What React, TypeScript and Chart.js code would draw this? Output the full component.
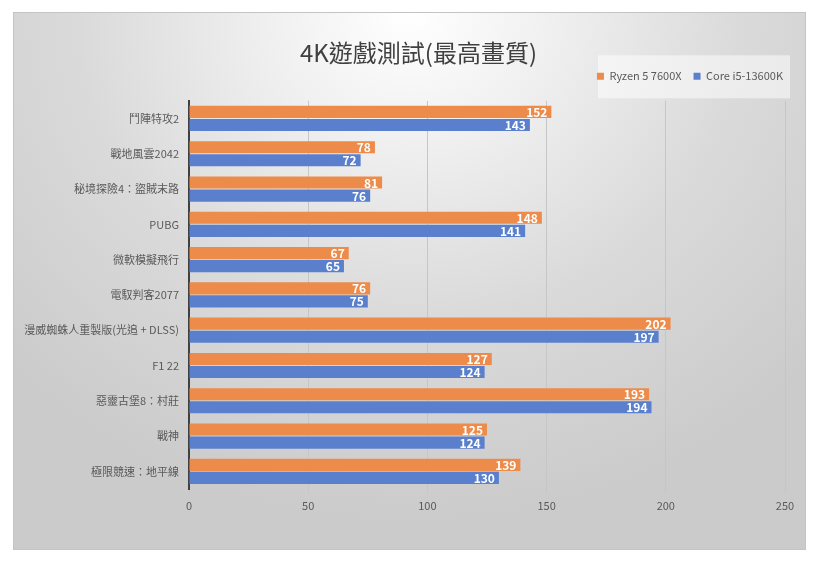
import React, { useEffect, useRef } from "react";
import { Chart, registerables } from "chart.js";

Chart.register(...registerables);

const TITLE = "4K遊戲測試(最高畫質)";
const categories = [
  "鬥陣特攻2",
  "戰地風雲2042",
  "秘境探險4：盜賊末路",
  "PUBG",
  "微軟模擬飛行",
  "電馭判客2077",
  "漫威蜘蛛人重製版(光追 + DLSS)",
  "F1 22",
  "惡靈古堡8：村莊",
  "戰神",
  "極限競速：地平線",
];
const seriesNames = ["Ryzen 5 7600X", "Core i5-13600K"];
const ryzenValues = [152, 78, 81, 148, 67, 76, 202, 127, 193, 125, 139];
const coreValues = [143, 72, 76, 141, 65, 75, 197, 124, 194, 124, 130];
const xTicks = [0, 50, 100, 150, 200, 250];

const ORANGE = "#ED8B4B";
const BLUE = "#5A80CD";
const FONT = "'Noto Sans CJK TC', 'Noto Sans', sans-serif";

const valueLabels = {
  id: "valueLabels",
  afterDatasetsDraw(chart: any) {
    const ctx = chart.ctx;
    ctx.save();
    ctx.font = `bold 12px ${FONT}`;
    ctx.fillStyle = "#ffffff";
    ctx.textAlign = "right";
    ctx.textBaseline = "middle";
    chart.data.datasets.forEach((ds: any, di: number) => {
      const meta = chart.getDatasetMeta(di);
      meta.data.forEach((bar: any, i: number) => {
        ctx.fillText(String(ds.data[i]), bar.x - 4, bar.y + 0.5);
      });
    });
    ctx.restore();
  },
};

const legendTweak = {
  id: "legendTweak",
  beforeLayout(chart: any) {
    const lg = chart.legend;
    if (lg && !lg._patched) {
      const orig = lg.fit.bind(lg);
      lg.fit = () => {
        orig();
        lg.height += 9;
      };
      lg._patched = true;
    }
  },
  afterLayout(chart: any) {
    const lg = chart.legend;
    if (lg) {
      lg.left += 10;
      lg.right += 10;
    }
    const tb = chart.titleBlock;
    if (tb) {
      tb.left += 19;
      tb.right += 19;
    }
  },
  beforeDraw(chart: any) {
    const lg = chart.legend;
    if (!lg || !lg.legendHitBoxes || !lg.legendHitBoxes.length) return;
    const ctx = chart.ctx;
    const hb = lg.legendHitBoxes;
    const cy = hb[0].top + hb[0].height / 2;
    ctx.save();
    ctx.fillStyle = "rgba(255,255,255,0.5)";
    ctx.fillRect(584, cy - 21, 192, 43);
    ctx.restore();
  },
};

export default function App() {
  const ref = useRef<HTMLCanvasElement>(null);

  useEffect(() => {
    if (!ref.current) return;
    const chart = new Chart(ref.current, {
      type: "bar",
      data: {
        labels: categories,
        datasets: [
          {
            label: seriesNames[0],
            data: ryzenValues,
            backgroundColor: ORANGE,
            categoryPercentage: 0.74,
            barPercentage: 0.93,
          },
          {
            label: seriesNames[1],
            data: coreValues,
            backgroundColor: BLUE,
            categoryPercentage: 0.74,
            barPercentage: 0.93,
          },
        ],
      },
      options: {
        indexAxis: "y",
        responsive: false,
        animation: false,
        layout: { padding: { left: 0, right: 20, top: 0, bottom: 0 } },
        plugins: {
          title: {
            display: true,
            text: TITLE,
            color: "#404040",
            font: { family: FONT, size: 24, weight: "normal" },
            padding: { top: 25, bottom: -8 },
          },
          legend: {
            display: true,
            position: "top",
            align: "end",
            labels: {
              boxWidth: 7,
              boxHeight: 7,
              padding: 12,
              color: "#595959",
              font: { family: FONT, size: 11 },
            },
          },
          tooltip: { enabled: false },
        },
        scales: {
          x: {
            min: 0,
            max: 250,
            afterBuildTicks(scale: any) {
              scale.ticks = xTicks.map((v) => ({ value: v }));
            },
            afterFit(scale: any) {
              scale.height = 60;
            },
            grid: {
              color: "#c6c6c6",
              lineWidth: 1,
              tickLength: 4,
              drawTicks: true,
            },
            border: { display: false },
            ticks: {
              color: "#595959",
              font: { family: FONT, size: 11 },
              padding: 6,
            },
          },
          y: {
            afterFit(scale: any) {
              scale.width = 175;
            },
            grid: { display: false, drawTicks: false },
            border: { display: true, color: "#404040", width: 2 },
            ticks: {
              color: "#595959",
              font: { family: FONT, size: 11 },
              padding: 10,
            },
          },
        },
      },
      plugins: [valueLabels, legendTweak],
    });
    return () => chart.destroy();
  }, []);

  return (
    <div style={{ position: "absolute", left: 0, top: 0, width: 820, height: 561, background: "#ffffff" }}>
      <div
        style={{
          position: "absolute",
          left: 13,
          top: 12,
          width: 791,
          height: 536,
          border: "1px solid #c4c4c4",
          background:
            "radial-gradient(ellipse 70% 95% at 50% 0%, #ffffff 0%, #f2f2f2 22%, #dadada 60%, #cbcbcb 100%)",
        }}
      >
        <canvas ref={ref} width={791} height={536} style={{ display: "block", width: 791, height: 536 }} />
      </div>
    </div>
  );
}
